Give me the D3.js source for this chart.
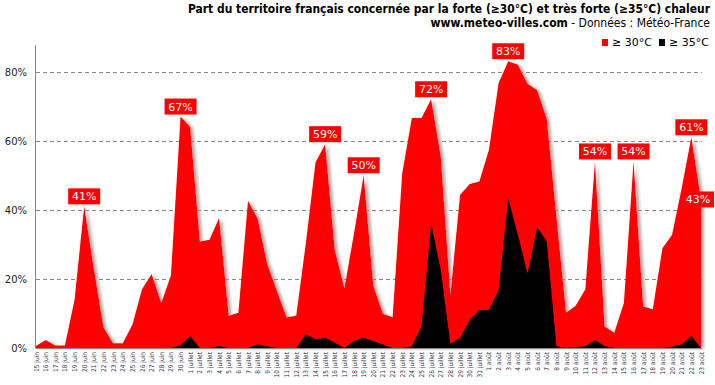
<!DOCTYPE html>
<html>
<head>
<meta charset="utf-8">
<script src="https://cdn.jsdelivr.net/npm/d3@7"></script>
<style>
  body { margin: 0; background: #fff; }
  svg { display: block; }
</style>
</head>
<body>
<div id="chart"></div>
<script>
// jours (axe x)
var days = [
  "15 juin","16 juin","17 juin","18 juin","19 juin","20 juin","21 juin","22 juin",
  "23 juin","24 juin","25 juin","26 juin","27 juin","28 juin","29 juin","30 juin",
  "1 juillet","2 juillet","3 juillet","4 juillet","5 juillet","6 juillet","7 juillet",
  "8 juillet","9 juillet","10 juillet","11 juillet","12 juillet","13 juillet","14 juillet",
  "15 juillet","16 juillet","17 juillet","18 juillet","19 juillet","20 juillet","21 juillet",
  "22 juillet","23 juillet","24 juillet","25 juillet","26 juillet","27 juillet","28 juillet",
  "29 juillet","30 juillet","31 juillet",
  "1 août","2 août","3 août","4 août","5 août","6 août","7 août","8 août","9 août",
  "10 août","11 août","12 août","13 août","14 août","15 août","16 août","17 août",
  "18 août","19 août","20 août","21 août","22 août","23 août"
];

// part du territoire >= 30°C (%)
var hot30 = [
  0.6, 2.3, 0.7, 0.7, 14, 41, 23, 6, 1.4, 1.4, 6.7, 17, 21.4, 13, 21, 67,
  64, 30.8, 31.3, 37.6, 9.3, 10.2, 42.6, 37.4, 24.3, 16.5, 8.9, 9.3, 30.3, 53.7,
  59, 28.4, 17.3, 33.2, 50, 18, 9.9, 8.9, 50.6, 66.6, 66.6, 72, 55.5, 15.4,
  44.3, 47.5, 48.2,
  57.4, 76.7, 83, 82, 76.5, 74.6, 66.3, 38, 10.2, 12.2, 17, 54, 6.2, 4.4, 13,
  54, 12, 11.2, 28.9, 32.8, 46.3, 61, 43
];

// part du territoire >= 35°C (%)
var hot35 = [
  0, 0, 0, 0, 0, 0, 0, 0, 0, 0, 0, 0, 0, 0, 0, 0.8,
  3.5, 0, 0, 0.6, 0, 0, 0, 1, 0.5, 0, 0, 0, 4, 2.5,
  3, 1.6, 0, 2, 3, 2, 1, 0, 0, 0.5, 6.2, 36.1, 22.6, 1.2,
  3, 8.1, 11,
  11, 16.8, 43.4, 32.8, 21.6, 35, 30.8, 0.5, 0, 0.3, 0.5, 2.3, 0.6, 0, 0,
  0, 0, 0, 0, 0.4, 1, 3.5, 0
];

// jours annotés
var peakIdx = [5, 15, 30, 34, 41, 49, 58, 62, 68, 69];

var yTicks = [0, 20, 40, 60, 80];

var W = 715, H = 385;
var margin = {top: 44, right: 14, bottom: 37, left: 36};

var svg = d3.select("#chart").append("svg")
  .attr("width", W).attr("height", H);

var x = d3.scaleLinear().domain([0, days.length - 1]).range([margin.left, W - margin.right]);
var y = d3.scaleLinear().domain([0, 88]).range([H - margin.bottom, margin.top]);

// ombre portée de la zone rouge
var defs = svg.append("defs");
var f = defs.append("filter").attr("id", "shadow")
  .attr("x", "-5%").attr("y", "-5%").attr("width", "115%").attr("height", "115%");
f.append("feDropShadow")
  .attr("dx", 3).attr("dy", 1).attr("stdDeviation", 1.5)
  .attr("flood-color", "#888").attr("flood-opacity", 0.7);

// grille
svg.append("g").selectAll("line")
  .data(yTicks.filter(function(d){ return d > 0; }))
  .enter().append("line")
  .attr("x1", margin.left).attr("x2", W - margin.right + 1)
  .attr("y1", function(d){ return Math.round(y(d)) + 0.5; })
  .attr("y2", function(d){ return Math.round(y(d)) + 0.5; })
  .attr("stroke", "#888").attr("stroke-dasharray", "4,3");

var area = function(vals){
  return d3.area()
    .x(function(d, i){ return x(i); })
    .y0(y(0))
    .y1(function(d){ return y(d); })(vals);
};

svg.append("path")
  .attr("d", area(hot30))
  .attr("fill", "#ff0000")
  .attr("filter", "url(#shadow)");

svg.append("path")
  .attr("d", area(hot35))
  .attr("fill", "#000");

// axes
svg.append("line")
  .attr("x1", margin.left - 0.5).attr("x2", margin.left - 0.5)
  .attr("y1", margin.top + 1).attr("y2", y(0))
  .attr("stroke", "#888");
svg.append("line")
  .attr("x1", margin.left - 0.5).attr("x2", W - margin.right + 1)
  .attr("y1", y(0) + 0.5).attr("y2", y(0) + 0.5)
  .attr("stroke", "#888");

svg.append("g").selectAll("text")
  .data(yTicks)
  .enter().append("text")
  .attr("x", margin.left - 9)
  .attr("y", function(d){ return y(d) + 4; })
  .attr("text-anchor", "end")
  .attr("font-family", "DejaVu Sans, sans-serif")
  .attr("font-size", "10px")
  .attr("fill", "#222")
  .text(function(d){ return d + "%"; });

svg.append("g").selectAll("text")
  .data(days)
  .enter().append("text")
  .attr("transform", function(d, i){ return "translate(" + (x(i) + 2.5) + "," + (y(0) + 4) + ") rotate(-90)"; })
  .attr("text-anchor", "end")
  .attr("font-family", "DejaVu Sans Condensed, DejaVu Sans, sans-serif")
  .attr("font-size", "6.5px")
  .attr("fill", "#334")
  .text(function(d){ return d; });

// étiquettes des pics
var lab = svg.append("g").selectAll("g")
  .data(peakIdx)
  .enter().append("g")
  .attr("transform", function(i, k){
    var last = (i === days.length - 1);
    var cx = last ? x(i) - 3 : x(i);
    var cy = last ? y(hot30[i]) : y(hot30[i]) - 10;
    return "translate(" + cx + "," + cy + ")";
  });
lab.append("rect")
  .attr("x", -16).attr("y", -8).attr("width", 32).attr("height", 16)
  .attr("fill", "#ff0000");
lab.append("text")
  .attr("y", 4)
  .attr("text-anchor", "middle")
  .attr("font-family", "DejaVu Sans, sans-serif")
  .attr("font-size", "11px")
  .attr("fill", "#fff")
  .text(function(i){ return Math.round(hot30[i]) + "%"; });

// titre
var right = 710;
svg.append("text")
  .attr("x", right).attr("y", 13)
  .attr("text-anchor", "end")
  .attr("font-family", "DejaVu Sans Condensed, sans-serif")
  .attr("font-weight", "bold")
  .attr("font-size", "12px")
  .attr("textLength", 522).attr("lengthAdjust", "spacingAndGlyphs")
  .attr("fill", "#000")
  .text("Part du territoire français concernée par la forte (≥30°C) et très forte (≥35°C) chaleur");

var sub = svg.append("text")
  .attr("x", right).attr("y", 27)
  .attr("text-anchor", "end")
  .attr("font-family", "DejaVu Sans Condensed, sans-serif")
  .attr("font-size", "12px")
  .attr("fill", "#000");
sub.append("tspan").attr("font-weight", "bold").text("www.meteo-villes.com");
sub.append("tspan").text(" - Données : Météo-France");

// légende
var legend = [{label: "≥ 30°C", color: "#ff0000"}, {label: "≥ 35°C", color: "#000"}];
var lg = svg.append("g").selectAll("g")
  .data(legend)
  .enter().append("g")
  .attr("transform", function(d, i){ return "translate(" + (602 + i * 57) + ",39)"; });
lg.append("rect").attr("width", 6).attr("height", 7).attr("fill", function(d){ return d.color; });
lg.append("text")
  .attr("x", 10).attr("y", 7)
  .attr("font-family", "DejaVu Sans, sans-serif")
  .attr("font-size", "11px")
  .attr("fill", "#000")
  .text(function(d){ return d.label; });
</script>
</body>
</html>
